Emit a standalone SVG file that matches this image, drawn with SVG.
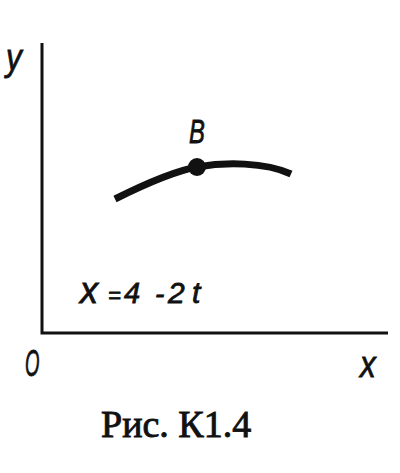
<svg xmlns="http://www.w3.org/2000/svg" width="400" height="473" viewBox="0 0 400 473">
<style>
.lbl{font-family:"Liberation Sans",Arial,sans-serif;font-style:italic;fill:#111;stroke:#111;stroke-width:0.8}
.cap{font-family:"Liberation Serif","Times New Roman",serif;fill:#111;stroke:#111;stroke-width:0.9}
.axis{stroke:#111;stroke-width:3;fill:none}
</style>
<rect width="400" height="473" fill="#fff"/>
<g id="axes">
<path class="axis" d="M42,43 V333 H388"/>
</g>
<g id="curve">
<path d="M115,199 C145,184 175,171 197,167 C225,162 265,162 291,174" fill="none" stroke="#111" stroke-width="7"/>
</g>
<g id="pointB">
<circle cx="197" cy="167" r="9" fill="#111"/>
<text class="lbl" transform="translate(189,143) scale(0.7,1)" font-size="34">B</text>
</g>
<g id="labels">
<text class="lbl" transform="translate(6,70) scale(0.85,1)" font-size="37">y</text>
<text class="lbl" transform="translate(25,376) scale(0.5,1)" font-size="37">O</text>
<text class="lbl" transform="translate(360,377) scale(0.85,1)" font-size="37">x</text>
</g>
<g id="equation">
<text class="lbl" y="303"><tspan x="80" font-size="36">x</tspan><tspan x="108" font-size="22">=</tspan><tspan x="124" font-size="29">4</tspan><tspan x="155" font-size="28">-</tspan><tspan x="168" font-size="30">2</tspan><tspan x="192" font-size="30">t</tspan></text>
</g>
<g id="caption">
<text class="cap" x="101" y="437" font-size="38">Рис. К1.4</text>
</g>
</svg>
